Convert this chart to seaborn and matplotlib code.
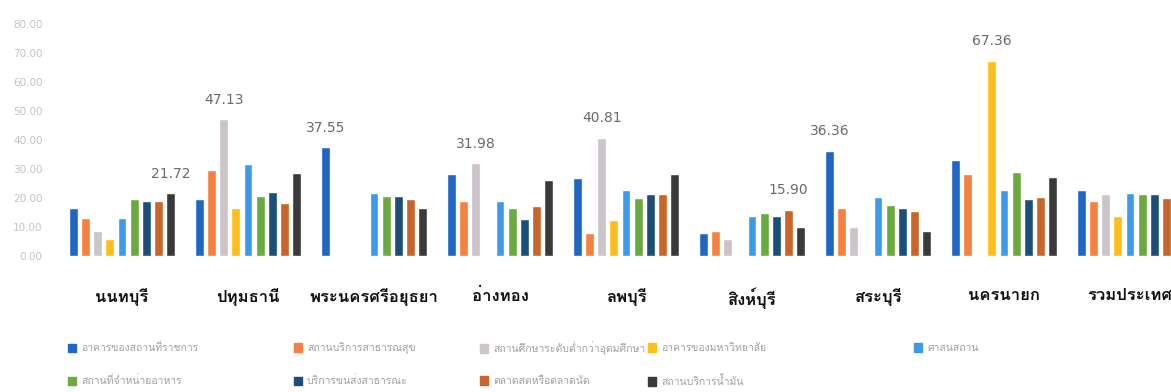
import matplotlib
matplotlib.use("Agg")
import matplotlib.pyplot as plt
from matplotlib import font_manager
from matplotlib.patches import Patch
import seaborn as sns
import pandas as pd
import numpy as np

# ---- data -------------------------------------------------------------
provinces = ["นนทบุรี", "ปทุมธานี", "พระนครศรีอยุธยา", "อ่างทอง", "ลพบุรี",
             "สิงห์บุรี", "สระบุรี", "นครนายก", "รวมประเทศ"]

places = ["อาคารของสถานที่ราชการ", "สถานบริการสาธารณสุข",
          "สถานศึกษาระดับต่ำกว่าอุดมศึกษา", "อาคารของมหาวิทยาลัย",
          "ศาสนสถาน", "สถานที่จำหน่ายอาหาร", "บริการขนส่งสาธารณะ",
          "ตลาดสดหรือตลาดนัด", "สถานบริการน้ำมัน"]

gov_building = [16.4, 19.8, 37.55, 28.3, 27.0, 7.8, 36.36, 33.1, 22.9]
health_service = [13.0, 29.7, np.nan, 19.1, 7.8, 8.5, 16.4, 28.3, 19.1]
school = [8.5, 47.13, np.nan, 31.98, 40.81, 5.8, 9.9, np.nan, 21.5]
university = [5.8, 16.7, np.nan, np.nan, 12.3, np.nan, np.nan, 67.36, 13.7]
religious = [13.0, 31.7, 21.8, 19.1, 22.9, 13.7, 20.5, 22.9, 21.8]
food_shop = [19.5, 20.8, 20.8, 16.4, 20.1, 15.0, 17.7, 29.0, 21.5]
transport = [18.8, 22.2, 20.8, 12.6, 21.5, 13.7, 16.4, 19.5, 21.5]
market = [18.8, 18.4, 19.5, 17.1, 21.5, 15.90, 15.4, 20.5, 20.1]
fuel_station = [21.72, 28.7, 16.4, 26.3, 28.3, 9.9, 8.5, 27.3, 23.2]

series = [gov_building, health_service, school, university, religious,
          food_shop, transport, market, fuel_station]

colors = ["#2066C4", "#F4813F", "#CBC4CA", "#FFBE1A", "#3D9AE8",
          "#6AAA3E", "#1B4F7A", "#C8662A", "#3A3A3A"]

y_ticks = [0, 10, 20, 30, 40, 50, 60, 70, 80]


# ---- fonts ------------------------------------------------------------
def thai_families():
    """Installed families that carry Thai glyphs."""
    found = []
    try:
        from fontTools.ttLib import TTFont
    except Exception:
        return found
    for f in font_manager.fontManager.ttflist:
        try:
            tt = TTFont(f.fname, fontNumber=0, lazy=True)
            cmap = tt.getBestCmap()
            if cmap and 0x0E01 in cmap and 0x0E35 in cmap:
                if f.name not in found:
                    found.append(f.name)
        except Exception:
            pass
    return found


sns.set_theme(style="white")
thai = thai_families()
plt.rcParams["font.family"] = thai[:1] + ["DejaVu Sans"]

# ---- long-form table --------------------------------------------------
rows = []
for place, vals in zip(places, series):
    for prov, v in zip(provinces, vals):
        if not np.isnan(v):
            rows.append({"province": prov, "place": place, "value": v})
df = pd.DataFrame(rows)

fig = plt.figure(figsize=(11.71, 3.92), dpi=100)
ax = fig.add_axes([55 / 1171, 136 / 392, 1 - 55 / 1171, 232 / 392])

sns.barplot(data=df, x="province", y="value", hue="place",
            order=provinces, hue_order=places, palette=colors,
            width=0.87, gap=0.27, errorbar=None, legend=False, ax=ax,
            saturation=1)

ax.set_xlim(-0.532, 8.325)
ax.set_ylim(0, 80)
ax.set_yticks(y_ticks)
ax.set_yticklabels([f"{t:.2f}" for t in y_ticks], color="#c4c4c4",
                   fontsize=7.5, family="DejaVu Sans")
ax.tick_params(axis="y", length=0, pad=9)
ax.tick_params(axis="x", length=0, pad=23)
for lbl in ax.get_xticklabels():
    lbl.set_fontweight("bold")
    lbl.set_fontsize(12)
    lbl.set_color("#111111")
ax.set_xlabel("")
ax.set_ylabel("")
for s in ax.spines.values():
    s.set_visible(False)
ax.grid(False)

# value label on the tallest bar of each province (national total unlabeled)
tallest = {}
for p in ax.patches:
    h = p.get_height()
    if np.isnan(h) or p.get_width() == 0:
        continue
    cx = p.get_x() + p.get_width() / 2
    g = int(round(cx))
    if g not in tallest or h > tallest[g][1]:
        tallest[g] = (cx, h)
for g, (cx, h) in tallest.items():
    if provinces[g] == "รวมประเทศ":
        continue
    ax.annotate(f"{h:.2f}", (cx, h), xytext=(0, 9), textcoords="offset points",
                ha="center", va="bottom", fontsize=10, color="#6a6a6a",
                family="DejaVu Sans")

# legend laid out in two rows
legend_pos = [(68, 348), (294, 348), (480, 348), (648, 348), (914, 348),
              (68, 381), (294, 381), (480, 381), (648, 381)]
for (px, py), place, c in zip(legend_pos, places, colors):
    fig.legend(handles=[Patch(facecolor=c, edgecolor=c)], labels=[place],
               loc="center left", bbox_to_anchor=(px / 1171, 1 - py / 392),
               frameon=False, fontsize=7.5, labelcolor="#a0a0a0",
               handlelength=0.75, handleheight=0.9, handletextpad=0.5,
               borderpad=0, borderaxespad=0)

fig.savefig("out.png", dpi=100)
